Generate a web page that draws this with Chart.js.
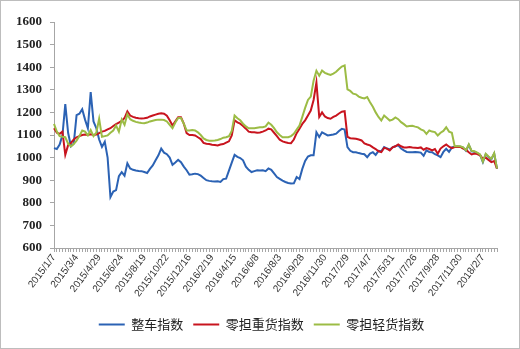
<!DOCTYPE html>
<html>
<head>
<meta charset="utf-8">
<script src="https://cdn.jsdelivr.net/npm/chart.js@4.4.1/dist/chart.umd.min.js"></script>
<style>
  html, body { margin: 0; padding: 0; background: #fff; }
  canvas { display: block; }
</style>
</head>
<body>
<canvas id="indexChart" width="520" height="349"></canvas>
<script>
// tick labels shown every 8th point
const tickLabels = ['2015/1/7', '2015/3/4', '2015/4/29', '2015/6/24', '2015/8/19', '2015/10/22',
  '2015/12/16', '2016/2/19', '2016/4/15', '2016/6/8', '2016/8/3', '2016/9/28', '2016/11/30',
  '2017/2/9', '2017/4/7', '2017/5/31', '2017/7/26', '2017/9/28', '2017/11/30', '2018/2/7'];

const seriesNames = ['整车指数', '零担重货指数', '零担轻货指数'];

const truckload = [
  1042, 1038, 1058, 1100, 1237, 1110, 1050, 1062, 1188, 1194, 1214, 1168, 1130, 1290, 1160, 1130,
  1080, 1047, 1070, 1000, 825, 850, 856, 918, 936, 920, 975, 952, 946, 943, 941, 940,
  936, 932, 950, 965, 988, 1010, 1040, 1022, 1015, 1000, 968, 978, 990, 980, 960, 944,
  924, 926, 929, 927, 920, 910, 900, 897, 895, 894, 895, 892, 905, 907, 942, 978,
  1012, 1003, 998, 988, 960, 946, 936, 940, 944, 943, 944, 940, 952, 946, 930, 914,
  906, 898, 892, 888, 885, 886, 914, 905, 950, 985, 1005, 1010, 1010, 1112, 1091, 1112,
  1105, 1098, 1100, 1102, 1106, 1118, 1127, 1124, 1046, 1030, 1024, 1024, 1020, 1017, 1015, 1002,
  1018, 1024, 1012, 1030, 1028, 1047, 1040, 1036, 1045, 1050, 1054, 1040, 1032, 1025, 1024, 1024,
  1025, 1024, 1022, 1008, 1032, 1025, 1024, 1015, 1010, 1002, 1025, 1039, 1025, 1045, 1048, 1049,
  1048, 1044, 1030, 1056, 1028, 1026, 1020, 1012, 980, 1015, 1003, 993, 1018, 950
];

const heavyLtl = [
  1130, 1110, 1105, 1115, 1012, 1055, 1065, 1080, 1090, 1095, 1100, 1102, 1100, 1103, 1100, 1102,
  1108, 1115, 1118, 1125, 1130, 1140, 1148, 1155, 1162, 1175, 1205, 1186, 1180, 1176, 1174, 1173,
  1174, 1176, 1182, 1186, 1190, 1194, 1196, 1194, 1185, 1165, 1142, 1160, 1178, 1178, 1150, 1108,
  1100, 1100, 1098, 1090, 1082, 1065, 1061, 1060, 1057, 1056, 1054, 1058, 1060, 1066, 1072, 1098,
  1165, 1156, 1150, 1140, 1128, 1115, 1112, 1112, 1110, 1111, 1115, 1120, 1128, 1125, 1110, 1095,
  1079, 1072, 1068, 1065, 1064, 1080, 1108, 1128, 1149, 1165, 1186, 1208, 1255, 1332, 1180, 1200,
  1182, 1175, 1172, 1180, 1186, 1195, 1203, 1205, 1092, 1086, 1085, 1083, 1080, 1076, 1063, 1058,
  1054, 1045, 1038, 1028, 1024, 1043, 1040, 1032, 1045, 1050, 1058, 1050, 1045, 1045, 1047, 1045,
  1044, 1043, 1045, 1035, 1042, 1038, 1032, 1038, 1017, 1040, 1050, 1058, 1048, 1042, 1047, 1048,
  1047, 1040, 1035, 1024, 1014, 1018, 1016, 1010, 995, 1000, 990, 980, 985, 951
];

const lightLtl = [
  1149, 1115, 1095, 1092, 1090, 1062, 1050, 1060, 1075, 1095, 1120, 1115, 1098, 1122, 1095, 1110,
  1172, 1092, 1095, 1098, 1110, 1120, 1142, 1115, 1168, 1145, 1192, 1170, 1163, 1158, 1155, 1153,
  1152, 1155, 1160, 1163, 1166, 1168, 1168, 1166, 1160, 1145, 1130, 1155, 1175, 1175, 1150, 1120,
  1120, 1122, 1120, 1112, 1100, 1085, 1078, 1075, 1075, 1076, 1078, 1082, 1088, 1090, 1095, 1118,
  1186, 1174, 1165, 1150, 1138, 1130, 1130, 1130, 1132, 1134, 1134, 1138, 1155, 1145, 1130, 1112,
  1100, 1090, 1090, 1090, 1095, 1105, 1124, 1142, 1180, 1220, 1255, 1270, 1340, 1384, 1362, 1385,
  1375, 1370, 1366, 1372, 1380, 1392, 1403, 1408, 1302, 1295, 1283, 1280, 1270, 1265, 1262, 1268,
  1245, 1225, 1200, 1180, 1164, 1186, 1175, 1164, 1168, 1178, 1170, 1157, 1148, 1138, 1140, 1141,
  1137, 1134, 1125, 1120, 1105, 1120, 1115, 1113, 1098, 1110, 1118, 1134, 1115, 1110, 1050, 1050,
  1050, 1045, 1032, 1058, 1030, 1028, 1022, 1014, 982, 1017, 1005, 995, 1020, 951
];

const colors = ['#2b62b4', '#c8141e', '#9cbc45'];

const frame = {
  id: 'frame',
  afterLayout(chart) {
    // legend is centred on the whole picture, not on the padded area
    chart.legend.left += 13;
    chart.legend.right += 13;
  },
  afterDraw(chart) {
    const c = chart.ctx;
    c.save();
    c.strokeStyle = '#bdbdbd';
    c.lineWidth = 1;
    c.strokeRect(0.5, 0.5, chart.width - 1, chart.height - 1);
    c.restore();
  }
};

const ctx = document.getElementById('indexChart').getContext('2d');
const points = truckload.map((_, i) => i);
const sets = [truckload, heavyLtl, lightLtl].map((d, i) => ({
  label: seriesNames[i],
  data: d,
  borderColor: colors[i],
  backgroundColor: colors[i],
  borderWidth: 2,
  pointRadius: 0,
  tension: 0,
  order: 3 - i
}));

new Chart(ctx, {
  type: 'line',
  data: { labels: points, datasets: sets },
  plugins: [frame],
  options: {
    responsive: false,
    animation: false,
    layout: { padding: { left: 0, right: 23, top: 22, bottom: 8 } },
    scales: {
      x: {
        offset: false,
        grid: { drawOnChartArea: false, tickLength: 4, color: '#a6a6a6' },
        border: { color: '#a6a6a6' },
        ticks: {
          autoSkip: false, minRotation: 53, maxRotation: 53, padding: 0,
          color: '#333', font: { family: "'Liberation Sans', Arial, sans-serif", size: 10 },
          callback: (v, i) => (i % 8 === 0 ? tickLabels[i / 8] : '')
        },
        afterFit: s => { s.height = 60; }
      },
      y: {
        min: 600, max: 1600,
        grid: { drawOnChartArea: false, tickLength: 4, color: '#a6a6a6' },
        border: { color: '#a6a6a6' },
        ticks: {
          stepSize: 100, padding: 8, color: '#222',
          font: { family: "'Liberation Serif', 'DejaVu Serif', serif", size: 13, weight: 'bold' },
          callback: v => String(v)
        },
        afterFit: s => { s.width = 54; }
      }
    },
    plugins: {
      legend: {
        position: 'bottom',
        labels: {
          boxWidth: 26, boxHeight: 2, padding: 10, color: '#222',
          font: { family: "'Noto Sans CJK SC', sans-serif", size: 13 },
          sort: (a, b) => a.datasetIndex - b.datasetIndex,
          generateLabels: chart => Chart.defaults.plugins.legend.labels.generateLabels(chart)
            .map(l => Object.assign(l, { lineWidth: 0 }))
        }
      },
      tooltip: { enabled: false }
    }
  }
});
</script>
</body>
</html>
